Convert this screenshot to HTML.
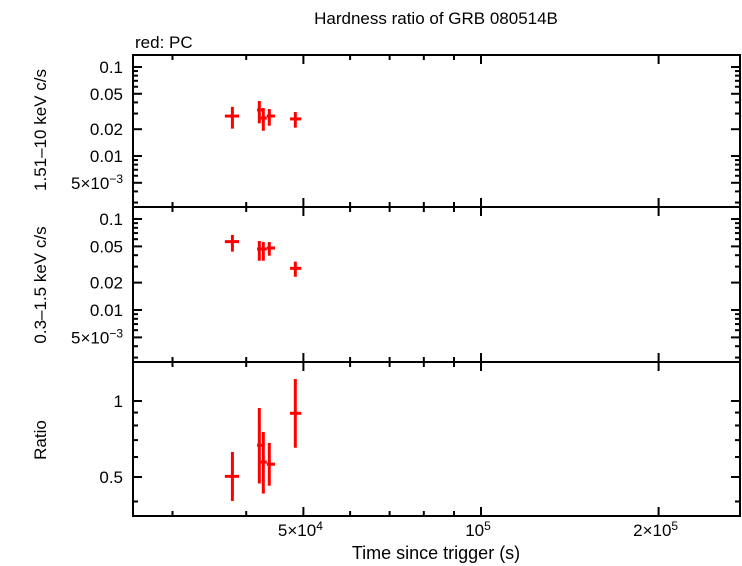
<!DOCTYPE html>
<html><head><meta charset="utf-8"><style>
body{margin:0;background:#fff;}
svg{display:block;font-family:"Liberation Sans",sans-serif;}
</style></head><body>
<svg id="c" width="742" height="566"></svg>
<script>
const times=[37900,42100,42760,43770,48450];
const tLo=[36800,41730,42330,43340,47460];
const tHi=[38900,42550,43340,44750,49590];
const hard=[0.0281,0.0329,0.0267,0.0281,0.0261];
const hardLo=[0.0203,0.0233,0.0192,0.0219,0.0208];
const hardHi=[0.0356,0.0415,0.0346,0.0337,0.0312];
const soft=[0.0564,0.0468,0.0468,0.0480,0.0287];
const softLo=[0.0438,0.0348,0.0348,0.0395,0.0232];
const softHi=[0.0667,0.0573,0.0558,0.0558,0.0340];
const ratio=[0.503,0.668,0.573,0.562,0.894];
const ratioLo=[0.402,0.471,0.430,0.462,0.653];
const ratioHi=[0.628,0.938,0.754,0.682,1.222];
const fluxTicks=[0.1,0.05,0.02,0.01,0.005];
const fluxTickLabels=["0.1","0.05","0.02","0.01","5×10<tspan dy='-6' font-size='12'>−3</tspan>"];
const ratioTicks=[1,0.5];
const ratioTickLabels=["1","0.5"];
const xTicks=[50000,100000,200000];
const xTickLabels=["5×10<tspan dy='-6' font-size='12'>4</tspan>","10<tspan dy='-6' font-size='12'>5</tspan>","2×10<tspan dy='-6' font-size='12'>5</tspan>"];

const NS="http://www.w3.org/2000/svg";
const svg=document.getElementById('c');
const L=133,R=740;
const X=t=>481+590*(Math.log10(t)-5);
function mk(tag,attrs,parent){const e=document.createElementNS(NS,tag);for(const k in attrs)e.setAttribute(k,attrs[k]);(parent||svg).appendChild(e);return e;}
const panels=[
 {name:'hard-band',top:55,bot:207,y:v=>67+89*(-1-Math.log10(v)),vals:hard,lo:hardLo,hi:hardHi,ticks:fluxTicks,labels:fluxTickLabels,minLog:-2.573,maxLog:-0.865,title:'1.51–10 keV c/s',ty:130},
 {name:'soft-band',top:207,bot:362,y:v=>219+91*(-1-Math.log10(v)),vals:soft,lo:softLo,hi:softHi,ticks:fluxTicks,labels:fluxTickLabels,minLog:-2.6,maxLog:-0.87,title:'0.3–1.5 keV c/s',ty:285},
 {name:'ratio',top:362,bot:516,y:v=>401-252.5*Math.log10(v),vals:ratio,lo:ratioLo,hi:ratioHi,ticks:ratioTicks,labels:ratioTickLabels,minLog:-0.455,maxLog:0.1545,title:'Ratio',ty:440}
];
panels.forEach(p=>{
 const g=mk('g',{});
 
 
 const d0=Math.floor(p.minLog),d1=Math.ceil(p.maxLog);
 for(let d=d0;d<=d1;d++)for(let m=1;m<10;m++){
  const v=m*Math.pow(10,d);const lv=Math.log10(v);
  if(lv<p.minLog||lv>p.maxLog)continue;
  const y=p.y(v);const major=p.ticks.some(t=>Math.abs(t-v)/v<1e-6);
  const len=major?9:5;
  mk('line',{x1:L,x2:L+len,y1:y,y2:y,stroke:'#000','stroke-width':2},g);
  mk('line',{x1:R,x2:R-len,y1:y,y2:y,stroke:'#000','stroke-width':2},g);
 }
 p.ticks.forEach((t,i)=>{
  const tx=mk('text',{x:L-10,y:p.y(t)+6,'text-anchor':'end','font-size':17},g);
  tx.innerHTML=p.labels[i];
  
  
 });
 for(let d=4;d<=5;d++)for(let m=1;m<10;m++){
  const t=m*Math.pow(10,d);const x=X(t);if(x<L||x>R)continue;
  const major=xTicks.includes(t);const len=major?9:5;
  mk('line',{x1:x,x2:x,y1:p.bot,y2:p.bot-len,stroke:'#000','stroke-width':2},g);
  mk('line',{x1:x,x2:x,y1:p.top,y2:p.top+len,stroke:'#000','stroke-width':2},g);
 }
 mk('rect',{x:L,y:p.top,width:R-L,height:p.bot-p.top,fill:'none',stroke:'#000','stroke-width':2},g);
 const yt=mk('text',{x:0,y:0,'text-anchor':'middle','font-size':17,transform:`translate(46,${p.ty}) rotate(-90)`},g);
 yt.textContent=p.title;
 
 
 p.vals.forEach((v,i)=>{
  const pt=mk('g',{stroke:'#f00','stroke-width':3},g);
  
  
  const x=X(times[i]),y=p.y(v);
  mk('line',{x1:X(tLo[i]),x2:X(tHi[i]),y1:y,y2:y},pt);
  mk('line',{x1:x,x2:x,y1:p.y(p.lo[i]),y2:p.y(p.hi[i])},pt);
 });
});
xTicks.forEach((t,i)=>{
 const tx=mk('text',{x:X(t)-3,y:536,'text-anchor':'middle','font-size':17});
 tx.innerHTML=xTickLabels[i];
 
 
});
const xt=mk('text',{x:436,y:559,'text-anchor':'middle','font-size':18});
xt.textContent='Time since trigger (s)';


const tt=mk('text',{x:436,y:24,'text-anchor':'middle','font-size':17});
tt.textContent='Hardness ratio of GRB 080514B';


const lg=mk('text',{x:135,y:48,'font-size':17});
lg.textContent='red: PC';


</script>
</body></html>
